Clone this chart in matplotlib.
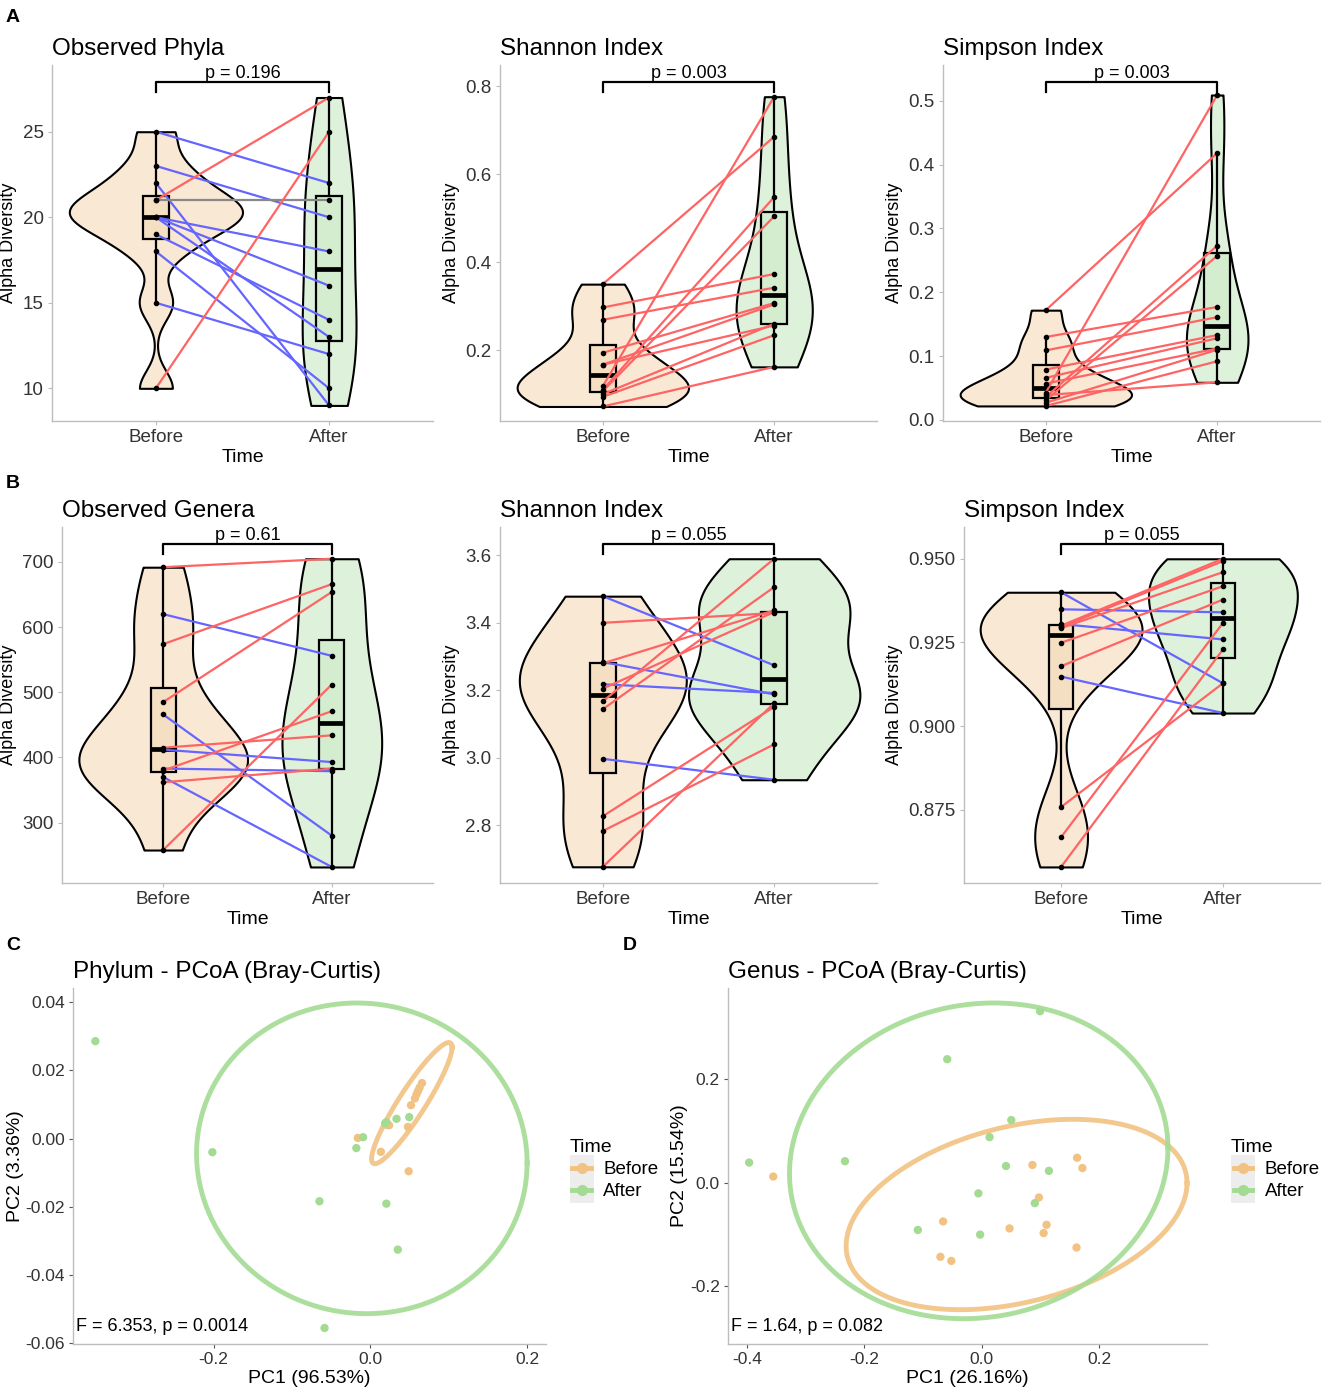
import numpy as np
import matplotlib.pyplot as plt
from matplotlib.lines import Line2D
from matplotlib.patches import Rectangle
from matplotlib.legend_handler import HandlerBase

plt.rcParams['font.family'] = ['Liberation Sans', 'DejaVu Sans']
plt.rcParams['axes.unicode_minus'] = False

# ---------- 1) paired alpha diversity, Before -> After (same subject order) ----------
phyla_obs_before = [25, 23, 22, 21, 21, 20, 20, 20, 19, 18, 15, 10]
phyla_obs_after = [22, 20, 9, 27, 21, 18, 16, 13, 14, 10, 12, 25]

phyla_shannon_before = [0.35, 0.297, 0.269, 0.194, 0.167, 0.167, 0.118, 0.110, 0.107, 0.100, 0.094, 0.072]
phyla_shannon_after = [0.685, 0.373, 0.342, 0.307, 0.304, 0.256, 0.776, 0.548, 0.504, 0.260, 0.234, 0.162]

phyla_simpson_before = [0.172, 0.130, 0.109, 0.079, 0.066, 0.057, 0.043, 0.039, 0.036, 0.031, 0.027, 0.022]
phyla_simpson_after = [0.418, 0.177, 0.161, 0.133, 0.128, 0.112, 0.509, 0.059, 0.273, 0.257, 0.110, 0.092]

genera_obs_before = [692, 620, 574, 485, 466, 415, 412, 383, 380, 370, 362, 258]
genera_obs_after = [705, 556, 666, 654, 280, 434, 393, 379, 471, 232, 383, 512]

genera_shannon_before = [3.479, 3.400, 3.284, 3.280, 3.218, 3.205, 3.167, 3.144, 2.997, 2.827, 2.783, 2.677]
genera_shannon_after = [3.274, 3.429, 3.188, 3.437, 3.192, 3.432, 3.590, 3.506, 2.935, 3.151, 3.040, 3.162]

genera_simpson_before = [0.9400, 0.9349, 0.9305, 0.9300, 0.9296, 0.9293, 0.9249, 0.9179, 0.9148, 0.8758, 0.8668, 0.8579]
genera_simpson_after = [0.9128, 0.9340, 0.9259, 0.9500, 0.9493, 0.9460, 0.9418, 0.9378, 0.9039, 0.9128, 0.9308, 0.9229]

p_values = ["p = 0.196", "p = 0.003", "p = 0.003", "p = 0.61", "p = 0.055", "p = 0.055"]

# ---------- 2) PCoA coordinates ----------
phylum_before_pc1 = [-0.016, 0.024, 0.0135, 0.048, 0.049, 0.052, 0.057, 0.059, 0.061, 0.063, 0.066, 0.021]
phylum_before_pc2 = [0.0002, 0.0039, -0.0039, 0.0034, -0.0096, 0.0098, 0.0118, 0.0130, 0.0140, 0.0150, 0.0163, 0.0040]
phylum_after_pc1 = [-0.351, -0.2016, -0.0649, -0.0178, -0.0092, 0.0205, 0.0335, 0.0497, 0.0205, 0.0351, -0.0584, 0.019]
phylum_after_pc2 = [0.0286, -0.0040, -0.0184, -0.0028, 0.0004, 0.0048, 0.0058, 0.0063, -0.0191, -0.0326, -0.0556, 0.0045]

genus_before_pc1 = [-0.355, -0.066, -0.0706, -0.052, 0.047, 0.086, 0.097, 0.110, 0.105, 0.162, 0.171, 0.161]
genus_before_pc2 = [0.0116, -0.0755, -0.144, -0.152, -0.089, 0.034, -0.029, -0.082, -0.098, 0.048, 0.028, -0.126]
genus_after_pc1 = [-0.396, -0.233, -0.109, -0.059, -0.006, -0.003, 0.013, 0.041, 0.050, 0.090, 0.114, 0.099]
genus_after_pc2 = [0.0387, 0.0413, -0.092, 0.239, -0.021, -0.101, 0.088, 0.032, 0.121, -0.040, 0.0226, 0.332]

# 95% ellipses: center x, center y, half range x, half range y, correlation
phylum_ellipse_before = [0.053, 0.0104, 0.0514, 0.0178, 0.92]
phylum_ellipse_after = [-0.0108, -0.0058, 0.211, 0.0456, -0.03]
genus_ellipse_before = [0.059, -0.062, 0.29, 0.1845, 0.33]
genus_ellipse_after = [-0.0054, 0.042, 0.322, 0.306, 0.08]

phylum_note = "F = 6.353, p = 0.0014"
genus_note = "F = 1.64, p = 0.082"

# ---------- style ----------
VIOLIN_COLS = ['#F9E8D3', '#DEF1DA']
BOX_COLS = ['#F5DFC2', '#D4EDCF']
UP_COL, DOWN_COL, SAME_COL = '#FF6464', '#6565FF', '#888888'
ORANGE, GREEN = '#F2C283', '#A3DB93'
AXIS_COL = '#BDBDBD'
TEXT_COL = '#333333'

W, H = 1325, 1393
fig = plt.figure(figsize=(W / 100, H / 100), dpi=100)


def rect(l, r, t, b):
    return [l / W, 1 - b / H, (r - l) / W, (b - t) / H]


def nrd0(x):
    q1, q3 = np.percentile(x, [25, 75])
    lo = min(np.std(x, ddof=1), (q3 - q1) / 1.34)
    if lo <= 0:
        lo = np.std(x, ddof=1)
    return 0.9 * lo * len(x) ** -0.2


def style_axes(ax, size=13.5):
    for s in ['top', 'right']:
        ax.spines[s].set_visible(False)
    for s in ['left', 'bottom']:
        ax.spines[s].set_color(AXIS_COL)
        ax.spines[s].set_linewidth(1.0)
    ax.tick_params(length=3, width=0.8, color=AXIS_COL, labelsize=size, labelcolor=TEXT_COL, pad=3)


def alpha_panel(ax, before, after, title, ptext, ylim, yticks, fmt):
    groups = [np.asarray(before, float), np.asarray(after, float)]
    grids, dens = [], []
    for g in groups:
        grid = np.linspace(g.min(), g.max(), 512)
        bw = nrd0(g)
        d = np.exp(-0.5 * ((grid[:, None] - g[None, :]) / bw) ** 2).sum(1) / (len(g) * bw * np.sqrt(2 * np.pi))
        grids.append(grid)
        dens.append(d)
    dmax = max(d.max() for d in dens)
    box_w = 0.15
    for pos, g, grid, d, vc, bc in zip([1, 2], groups, grids, dens, VIOLIN_COLS, BOX_COLS):
        hw = 0.5 * d / dmax
        ax.fill_betweenx(grid, pos - hw, pos + hw, facecolor=vc, edgecolor='black', lw=1.5, zorder=1)
        q1, med, q3 = np.percentile(g, [25, 50, 75])
        iqr = q3 - q1
        lo = g[g >= q1 - 1.5 * iqr].min()
        hi = g[g <= q3 + 1.5 * iqr].max()
        ax.plot([pos, pos], [lo, q1], color='black', lw=1.6, zorder=3)
        ax.plot([pos, pos], [q3, hi], color='black', lw=1.6, zorder=3)
        ax.add_patch(Rectangle((pos - box_w / 2, q1), box_w, q3 - q1, facecolor=bc,
                               edgecolor='black', lw=1.6, zorder=4))
        ax.plot([pos - box_w / 2, pos + box_w / 2], [med, med], color='black', lw=3.4,
                solid_capstyle='butt', zorder=5)
    for b, a in zip(groups[0], groups[1]):
        col = UP_COL if a > b else (DOWN_COL if a < b else SAME_COL)
        ax.plot([1, 2], [b, a], color=col, lw=1.6, zorder=6)
    for pos, g in zip([1, 2], groups):
        ax.plot(np.full(len(g), pos), g, 'o', color='black', ms=3.0, zorder=7)

    # significance bracket
    tr = ax.get_xaxis_transform()
    ax.plot([1, 1, 2, 2], [0.925, 0.953, 0.953, 0.925], color='black', lw=1.6,
            transform=tr, clip_on=False, zorder=8)
    ax.text(1.5, 0.952, ptext, transform=tr, ha='center', va='bottom', fontsize=13)

    ax.set_xlim(0.4, 2.6)
    ax.set_ylim(*ylim)
    ax.set_xticks([1, 2])
    ax.set_xticklabels(['Before', 'After'], fontsize=13.5)
    ax.set_yticks(yticks)
    ax.set_yticklabels([fmt.format(v) for v in yticks])
    ax.set_xlabel('Time', fontsize=14, labelpad=2)
    ax.set_ylabel('Alpha Diversity', fontsize=13, labelpad=4)
    ax.set_title(title, loc='left', fontsize=17.5, pad=7)
    style_axes(ax)


def ellipse_xy(e):
    cx, cy, sx, sy, r = e
    t = np.linspace(0, 2 * np.pi, 300)
    return cx + sx * np.cos(t), cy + sy * (r * np.cos(t) + np.sqrt(1 - r ** 2) * np.sin(t))


class KeyHandler(HandlerBase):
    def create_artists(self, legend, orig_handle, xdescent, ydescent, width, height, fontsize, trans):
        c = orig_handle.get_color()
        bg = Rectangle((-xdescent, -ydescent - 2), width, height + 4, facecolor='#EDEDED',
                       edgecolor='none', transform=trans)
        ln = Line2D([-xdescent + 2, width - xdescent - 2], [height / 2 - ydescent] * 2,
                    color=c, lw=3.5, transform=trans)
        dot = Line2D([width / 2 - xdescent], [height / 2 - ydescent], marker='o', ms=7,
                     color=c, lw=0, transform=trans)
        return [bg, ln, dot]


def pcoa_panel(ax, bx, by, axx, ayy, e_before, e_after, title, xlabel, ylabel, note,
               xlim, ylim, xticks, yticks, xfmt, yfmt):
    ax.scatter(bx, by, s=36, color=ORANGE, edgecolor='none', zorder=3)
    ax.scatter(axx, ayy, s=36, color=GREEN, edgecolor='none', zorder=3)
    for e, c in [(e_before, ORANGE), (e_after, GREEN)]:
        ex, ey = ellipse_xy(e)
        ax.plot(ex, ey, color=c, lw=3.5, alpha=0.9, zorder=2)
    ax.text(0.006, 0.05, note, transform=ax.transAxes, ha='left', va='center', fontsize=13)
    ax.set_xlim(*xlim)
    ax.set_ylim(*ylim)
    ax.set_xticks(xticks)
    ax.set_xticklabels([xfmt.format(v) for v in xticks])
    ax.set_yticks(yticks)
    ax.set_yticklabels([yfmt.format(v) for v in yticks])
    ax.set_xlabel(xlabel, fontsize=14, labelpad=2)
    ax.set_ylabel(ylabel, fontsize=14, labelpad=1)
    ax.set_title(title, loc='left', fontsize=17.5, pad=7)
    style_axes(ax, size=12.5)
    ax.tick_params(color='#555555')
    handles = [Line2D([], [], color=ORANGE), Line2D([], [], color=GREEN)]
    ax.legend(handles, ['Before', 'After'], title='Time', loc='center left',
              bbox_to_anchor=(1.03, 0.49), frameon=False, handler_map={Line2D: KeyHandler()},
              handlelength=1.3, handleheight=1.3, labelspacing=0.1, handletextpad=0.5,
              fontsize=13.5, title_fontsize=14, alignment='left', borderpad=0)


# ---------- 3) layout ----------
ax_a1 = fig.add_axes(rect(52, 433, 65, 421))
ax_a2 = fig.add_axes(rect(500, 877, 65, 421))
ax_a3 = fig.add_axes(rect(943, 1320, 65, 421))
ax_b1 = fig.add_axes(rect(62, 433, 527, 883))
ax_b2 = fig.add_axes(rect(500, 877, 527, 883))
ax_b3 = fig.add_axes(rect(964, 1320, 527, 883))
ax_c = fig.add_axes(rect(73, 546, 988, 1344))
ax_d = fig.add_axes(rect(728, 1207, 988, 1344))

alpha_panel(ax_a1, phyla_obs_before, phyla_obs_after, 'Observed Phyla', p_values[0],
            (8.09, 28.9), [10, 15, 20, 25], '{:.0f}')
alpha_panel(ax_a2, phyla_shannon_before, phyla_shannon_after, 'Shannon Index', p_values[1],
            (0.039, 0.848), [0.2, 0.4, 0.6, 0.8], '{:.1f}')
alpha_panel(ax_a3, phyla_simpson_before, phyla_simpson_after, 'Simpson Index', p_values[2],
            (-0.0016, 0.556), [0.0, 0.1, 0.2, 0.3, 0.4, 0.5], '{:.1f}')
alpha_panel(ax_b1, genera_obs_before, genera_obs_after, 'Observed Genera', p_values[3],
            (207.4, 753.7), [300, 400, 500, 600, 700], '{:.0f}')
alpha_panel(ax_b2, genera_shannon_before, genera_shannon_after, 'Shannon Index', p_values[4],
            (2.629, 3.684), [2.8, 3.0, 3.2, 3.4, 3.6], '{:.1f}')
alpha_panel(ax_b3, genera_simpson_before, genera_simpson_after, 'Simpson Index', p_values[5],
            (0.8531, 0.9595), [0.875, 0.900, 0.925, 0.950], '{:.3f}')

pcoa_panel(ax_c, phylum_before_pc1, phylum_before_pc2, phylum_after_pc1, phylum_after_pc2,
           phylum_ellipse_before, phylum_ellipse_after, 'Phylum - PCoA (Bray-Curtis)',
           'PC1 (96.53%)', 'PC2 (3.36%)', phylum_note,
           (-0.3795, 0.2243), (-0.0603, 0.0442), [-0.2, 0.0, 0.2],
           [-0.06, -0.04, -0.02, 0.0, 0.02, 0.04], '{:.1f}', '{:.2f}')
pcoa_panel(ax_d, genus_before_pc1, genus_before_pc2, genus_after_pc1, genus_after_pc2,
           genus_ellipse_before, genus_ellipse_after, 'Genus - PCoA (Bray-Curtis)',
           'PC1 (26.16%)', 'PC2 (15.54%)', genus_note,
           (-0.432, 0.383), (-0.313, 0.377), [-0.4, -0.2, 0.0, 0.2],
           [-0.2, 0.0, 0.2], '{:.1f}', '{:.1f}')

for lab, x, y in [('A', 6, 17), ('B', 6, 483), ('C', 6, 945), ('D', 623, 945)]:
    fig.text(x / W, 1 - y / H, lab, fontsize=14, fontweight='bold', va='center', ha='left')

fig.savefig('out.png', dpi=100)
